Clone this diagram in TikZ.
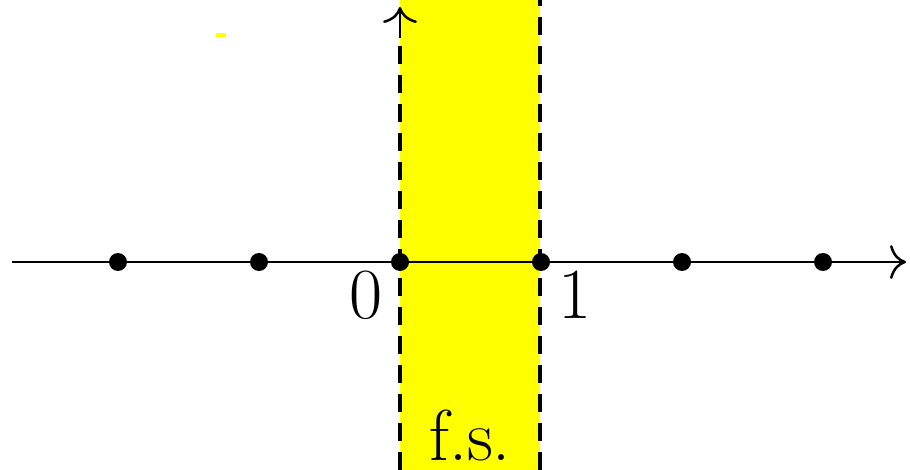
\documentclass[tikz,border=0pt]{standalone}
\usetikzlibrary{arrows.meta}
\definecolor{pureyellow}{RGB}{255,255,0}
\begin{document}
\begin{tikzpicture}[x=1pt,y=-1pt,
  axisline/.style={line width=2pt},
  cmtip/.style={-{Computer Modern Rightarrow[length=16pt,width=34pt,line width=2.5pt]}},
  stripline/.style={line width=4pt,dash pattern=on 18pt off 11pt},
  dotmark/.style={circle,fill=black,inner sep=0pt,minimum size=18pt},
  biglabel/.style={font=\fontsize{72}{80}\selectfont,inner sep=0pt,anchor=base}]
\useasboundingbox (0,0) rectangle (910,470);
\fill[white] (0,0) rectangle (910,470);
% yellow strip
\fill[pureyellow] (400,0) rectangle (540,470);
\fill[pureyellow] (216,33) rectangle (226,37);
% axis coordinates
\coordinate (xstart) at (12,262);
\coordinate (xend) at (906,262);
\coordinate (ybot) at (400,470);
\coordinate (ymid) at (400,38);
\coordinate (ytop) at (400,7);
\coordinate (rbot) at (540,470);
\coordinate (rtop) at (540,0);
% dashed strip edges
\draw[stripline] (ybot) -- (400,42);
\draw[stripline] (rbot) -- (rtop);
% vertical axis tip
\draw[axisline,cmtip] (ymid) -- (ytop);
% horizontal axis
\draw[axisline,cmtip] (xstart) -- (xend);
% points
\node[dotmark] (pm3) at (118,262) {};
\node[dotmark] (pm2) at (259,262) {};
\node[dotmark] (p0) at (400,262) {};
\node[dotmark] (p1) at (541,262) {};
\node[dotmark] (p2) at (682,262) {};
\node[dotmark] (p3) at (823,262) {};
% labels
\node[biglabel] (l0) at (366,319) {0};
\node[biglabel] (l1) at (575,319) {1};
\node[biglabel] (lfs) at (470,460) {f.s.};
\end{tikzpicture}
\end{document}
